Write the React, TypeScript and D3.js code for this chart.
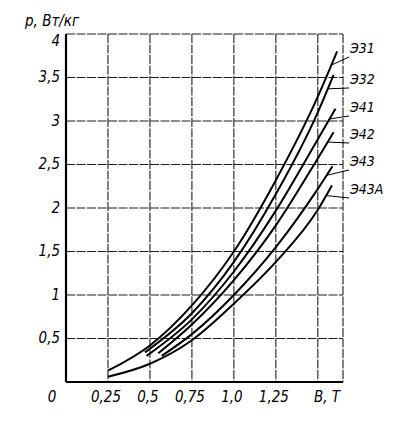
import React from "react";
import * as d3 from "d3";

// Data: specific losses p (W/kg) vs induction B (T) for steel grades
const grades = ["Э31", "Э32", "Э41", "Э42", "Э43", "Э43А"];
const bE31 = [0.25, 0.5, 0.75, 1.0, 1.25, 1.5, 1.615];
const pE31 = [0.13, 0.42, 0.88, 1.5, 2.32, 3.28, 3.8];
const bE32 = [0.47, 0.75, 1.0, 1.25, 1.5, 1.594];
const pE32 = [0.34, 0.79, 1.38, 2.16, 3.1, 3.53];
const bE41 = [0.48, 0.75, 1.0, 1.25, 1.5, 1.605];
const pE41 = [0.3, 0.72, 1.27, 1.97, 2.79, 3.14];
const bE42 = [0.55, 0.75, 1.0, 1.25, 1.5, 1.594];
const pE42 = [0.33, 0.66, 1.17, 1.8, 2.57, 2.87];
const bE43 = [0.57, 0.75, 1.0, 1.25, 1.5, 1.587];
const pE43 = [0.3, 0.55, 1.0, 1.55, 2.22, 2.48];
const bE43A = [0.25, 0.5, 0.75, 1.0, 1.25, 1.5, 1.584];
const pE43A = [0.06, 0.21, 0.48, 0.9, 1.38, 1.98, 2.26];

const xTicks = [0.25, 0.5, 0.75, 1.0, 1.25];
const xTickLabels = ["0,25", "0,5", "0,75", "1,0", "1,25"];
const yTicks = [0.5, 1, 1.5, 2, 2.5, 3, 3.5, 4];
const yTickLabels = ["0,5", "1", "1,5", "2", "2,5", "3", "3,5", "4"];
const xGrid = [0.25, 0.5, 0.75, 1.0, 1.25, 1.5, 1.65];

const seriesB = [bE31, bE32, bE41, bE42, bE43, bE43A];
const seriesP = [pE31, pE32, pE41, pE42, pE43, pE43A];

// layout only
const labelY = [49, 80, 108, 135, 162, 190];

export default function App() {
  const x = d3.scaleLinear().domain([0, 1.65]).range([66, 343]);
  const y = d3.scaleLinear().domain([0, 4]).range([382, 34]);
  const line = d3
    .line<[number, number]>()
    .x((d) => x(d[0]))
    .y((d) => y(d[1]))
    .curve(d3.curveMonotoneX);

  const font = "'DejaVu Sans Condensed', 'DejaVu Sans', sans-serif";
  const grid = "#1e1e1e";

  return (
    <svg
      width={404}
      height={424}
      style={{ position: "absolute", left: 0, top: 0, background: "#fff" }}
    >
      {/* grid */}
      {xGrid.map((b, i) => (
        <line
          key={"gx" + i}
          x1={x(b)}
          x2={x(b)}
          y1={y(4)}
          y2={y(0)}
          stroke={grid}
          strokeWidth={1.1}
          strokeDasharray="9,1.5"
        />
      ))}
      {yTicks.map((v, i) => (
        <line
          key={"gy" + i}
          x1={x(0)}
          x2={x(1.65)}
          y1={y(v)}
          y2={y(v)}
          stroke={grid}
          strokeWidth={1.1}
          strokeDasharray="9,1.5"
        />
      ))}
      {/* axes */}
      <line x1={x(0)} x2={x(0)} y1={y(4)} y2={y(0)} stroke="#000" strokeWidth={2.2} />
      <line x1={x(0)} x2={x(1.65)} y1={y(0)} y2={y(0)} stroke="#000" strokeWidth={1.8} />

      {/* curves */}
      {seriesB.map((bs, i) => {
        const pts: [number, number][] = bs.map((b, j) => [b, seriesP[i][j]]);
        return (
          <path
            key={"c" + i}
            d={line(pts) || ""}
            fill="none"
            stroke="#000"
            strokeWidth={2}
          />
        );
      })}

      {/* leaders and labels */}
      {grades.map((g, i) => {
        const bs = seriesB[i];
        const ps = seriesP[i];
        const n = bs.length;
        const b1 = bs[n - 1];
        const p1 = ps[n - 1];
        const b0 = bs[n - 2];
        const p0 = ps[n - 2];
        const bl = b1 - 0.035;
        const pl = p0 + ((p1 - p0) * (bl - b0)) / (b1 - b0);
        return (
          <g key={"l" + i}>
            <line
              x1={x(bl)}
              y1={y(pl)}
              x2={349}
              y2={labelY[i] + 8}
              stroke="#000"
              strokeWidth={1}
            />
            <text
              x={350}
              y={labelY[i]}
              dominantBaseline="middle"
              fontFamily={font}
              fontStyle="italic"
              fontSize={14}
              fill="#000"
            >
              {g}
            </text>
          </g>
        );
      })}

      {/* y tick labels */}
      {yTicks.map((v, i) => (
        <text
          key={"ty" + i}
          x={60}
          y={y(v) + (v === 4 ? 7 : 0)}
          textAnchor="end"
          dominantBaseline="middle"
          fontFamily={font}
          fontStyle="italic"
          fontSize={15}
          fill="#000"
        >
          {yTickLabels[i]}
        </text>
      ))}
      {/* x tick labels */}
      <text
        x={52}
        y={397}
        textAnchor="middle"
        dominantBaseline="middle"
        fontFamily={font}
        fontStyle="italic"
        fontSize={15}
      >
        0
      </text>
      {xTicks.map((v, i) => (
        <text
          key={"tx" + i}
          x={x(v) - 2}
          y={397}
          textAnchor="middle"
          dominantBaseline="middle"
          fontFamily={font}
          fontStyle="italic"
          fontSize={15}
        >
          {xTickLabels[i]}
        </text>
      ))}
      <text
        x={327}
        y={397}
        textAnchor="middle"
        dominantBaseline="middle"
        fontFamily={font}
        fontStyle="italic"
        fontSize={15}
      >
        B, T
      </text>
      {/* y axis title */}
      <text
        x={25}
        y={26}
        fontFamily={font}
        fontStyle="italic"
        fontSize={15}
      >
        p, Вт/кг
      </text>
    </svg>
  );
}
